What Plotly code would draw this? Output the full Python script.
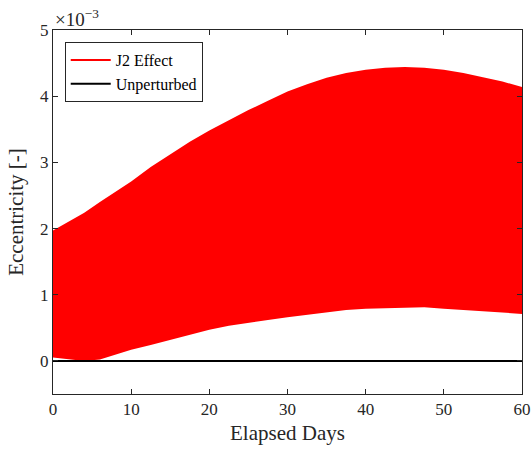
import plotly.graph_objects as go

# Elapsed days at which the envelope of the J2 eccentricity oscillation was read
days = [0, 2, 4, 6, 8, 10, 12.5, 15, 17.5, 20, 22.5, 25, 27.5, 30, 32.5, 35,
        37.5, 40, 42.5, 45, 47.5, 50, 52.5, 55, 57.5, 60]
# Envelope values, in units of 1e-3
j2_upper = [1.97, 2.10, 2.24, 2.40, 2.55, 2.71, 2.93, 3.12, 3.31, 3.48, 3.64, 3.79,
            3.93, 4.07, 4.18, 4.28, 4.35, 4.40, 4.43, 4.44, 4.43, 4.40, 4.35, 4.29,
            4.22, 4.14]
j2_lower = [0.05, 0.02, 0.00, 0.02, 0.10, 0.17, 0.24, 0.32, 0.40, 0.47, 0.53, 0.58,
            0.62, 0.66, 0.70, 0.74, 0.77, 0.79, 0.80, 0.81, 0.81, 0.79, 0.77, 0.75,
            0.73, 0.71]
unpert_days = [0, 60]
unpert_ecc = [0, 0]

y_ticks = [0, 1, 2, 3, 4, 5]
x_ticks = [0, 10, 20, 30, 40, 50, 60]

FONT = "Liberation Serif"
AX = "#262626"

fig = go.Figure()
fig.add_trace(go.Scatter(x=days, y=j2_lower, mode="lines", line=dict(color="red", width=0),
                         showlegend=False, hoverinfo="skip"))
fig.add_trace(go.Scatter(x=days, y=j2_upper, mode="lines", line=dict(color="red", width=0),
                         fill="tonexty", fillcolor="red", showlegend=False))
fig.add_trace(go.Scatter(x=[None], y=[None], mode="lines", line=dict(color="red", width=2),
                         name="J2 Effect"))
fig.add_trace(go.Scatter(x=unpert_days, y=unpert_ecc, mode="lines",
                         line=dict(color="black", width=2), name="Unperturbed"))

axis_common = dict(showgrid=False, zeroline=False, showline=True, linecolor=AX, linewidth=1,
                   mirror="ticks", ticks="inside", ticklen=5, tickcolor=AX, automargin=False,
                   tickfont=dict(family=FONT, size=17, color=AX))
fig.update_xaxes(range=[0, 60], tickvals=x_ticks, ticktext=[str(v) for v in x_ticks],
                 title=dict(text="Elapsed Days", font=dict(family=FONT, size=21, color=AX),
                            standoff=6),
                 **axis_common)
fig.update_yaxes(range=[-0.5, 5], tickvals=y_ticks, ticktext=[str(v) for v in y_ticks],
                 title=dict(text="Eccentricity [-]", font=dict(family=FONT, size=21, color=AX),
                            standoff=10),
                 **axis_common)

fig.add_annotation(text="×10<sup>−3</sup>", xref="paper", yref="paper", x=0.0, y=1.0,
                   xanchor="left", yanchor="bottom", showarrow=False,
                   font=dict(family=FONT, size=19, color=AX), yshift=-2)

fig.update_layout(
    width=531, height=453,
    margin=dict(l=53, r=9, t=30, b=59),
    plot_bgcolor="white", paper_bgcolor="white",
    legend=dict(x=0.025, y=0.967, xanchor="left", yanchor="top", traceorder="normal",
                bgcolor="white", bordercolor=AX, borderwidth=1,
                font=dict(family=FONT, size=16, color="black"),
                tracegroupgap=0, itemwidth=40),
)

fig.write_html("out.html")
